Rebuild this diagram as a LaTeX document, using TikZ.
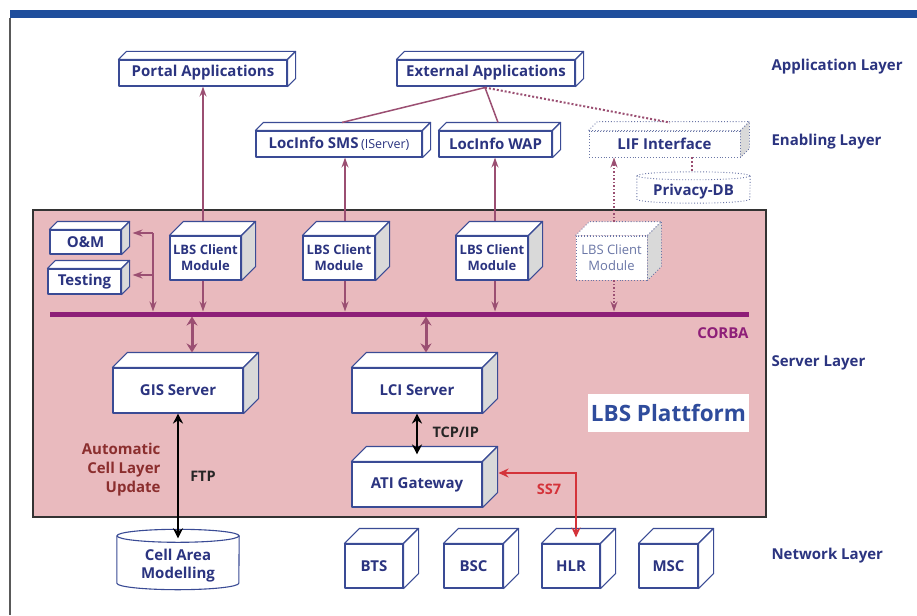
\documentclass[tikz,border=0pt]{standalone}
\usepackage{fontspec}
\setmainfont{Open Sans}
\usetikzlibrary{arrows.meta,calc}
\definecolor{navy}{HTML}{2B3480}
\definecolor{boxblue}{HTML}{3A4B95}
\definecolor{mauve}{HTML}{9B4F72}
\definecolor{busc}{HTML}{8E1F78}
\definecolor{pinkbg}{HTML}{E9BABE}
\definecolor{topblue}{HTML}{1F4E9C}
\definecolor{ssred}{HTML}{D4333A}
\definecolor{darkred}{HTML}{8B2E2E}
\definecolor{platblue}{HTML}{2F4C9C}
\definecolor{sidegray}{HTML}{D9D9D9}
\definecolor{dotblue}{HTML}{6A76A6}
\pgfdeclarelayer{bg}
\pgfdeclarelayer{cyl}
\pgfsetlayers{bg,cyl,main}
\newcommand\mkcube[4][boxline]{%
  \draw[#1,fill=white] (#2.north west) -- ++(#3,-#3) -- ($(#2.north east)+(#3,-#3)$) -- (#2.north east) -- cycle;
  \draw[#1,fill=#4] (#2.north east) -- ++(#3,-#3) -- ($(#2.south east)+(#3,-#3)$) -- (#2.south east) -- cycle;
}
\newcommand\mkcyl[4][boxline]{% style, node, xradius, yradius (numbers)
  \begin{pgfonlayer}{cyl}
  \draw[#1,fill=white] ($(#2.north west)+(0,-#4)$) -- ($(#2.south west)+(0,-#4)$) arc[start angle=180,end angle=360,x radius=#3pt,y radius=#4pt] -- ($(#2.north east)+(0,-#4)$) -- cycle;
  \draw[#1,fill=white] ($(#2.north)+(0,-#4)$) ellipse[x radius=#3pt,y radius=#4pt];
  \end{pgfonlayer}
}
\tikzset{
  boxline/.style={draw=boxblue,line width=1.1pt,line join=round},
  dotline/.style={draw=dotblue,line width=0.9pt,dotted,line join=round},
  fbox/.style={boxline,fill=white,inner sep=0pt,align=center,text=navy,font=\bfseries\fontsize{15}{17}\selectfont},
  cbox/.style={fbox,font=\bfseries\fontsize{13}{16}\selectfont},
  cylbody/.style={inner sep=0pt,align=center,text=navy,font=\bfseries\fontsize{15}{18}\selectfont},
  layerlbl/.style={anchor=west,text=navy,font=\bfseries\fontsize{15}{17}\selectfont},
  marr/.style={draw=mauve,line width=1.5pt,-{Stealth[length=10pt,width=7pt]}},
  mline/.style={draw=mauve,line width=1.5pt},
  mdot/.style={draw=mauve,line width=2pt,dotted},
  dbl/.style={draw=mauve,line width=3pt,{Stealth[length=9pt,width=11pt]}-{Stealth[length=9pt,width=11pt]}},
  blk/.style={draw=black,line width=2.5pt,{Stealth[length=10pt,width=10pt]}-{Stealth[length=10pt,width=10pt]}},
  redarr/.style={draw=ssred,line width=2pt,{Stealth[length=10pt,width=9pt]}-{Stealth[length=10pt,width=9pt]}},
}
\begin{document}
\begin{tikzpicture}[x=1pt,y=-1pt]
\begin{pgfonlayer}{bg}
\fill[white] (0,0) rectangle (917,615);
\end{pgfonlayer}
\useasboundingbox (0,0) rectangle (917,615);
\fill[topblue] (10,10) rectangle (917,18);
\draw[gray!70!black,line width=1.5pt] (10,18) -- (10,615);
% platform
\node[draw=black!80,line width=2pt,fill=pinkbg,minimum width=733pt,minimum height=307pt,inner sep=0pt] (plat) at (399.5,363.5) {};
\coordinate (busL) at (50,314);
\coordinate (busR) at (749,314);
\draw[busc,line width=5pt] (busL) -- (busR);
\node[anchor=east,text=busc,font=\bfseries\fontsize{15}{17}\selectfont] (corba) at (752,333) {CORBA};
\node[fill=white,minimum width=161pt,minimum height=38pt,inner sep=0pt,text=platblue,font=\bfseries\fontsize{22.5}{26}\selectfont] (lbsp) at (668.5,413) {LBS Plattform};

% application layer
\node[fbox,minimum width=168pt,minimum height=26pt] (portal) at (203,73) {Portal Applications};
\mkcube{portal}{8}{white}
\node[fbox,minimum width=178pt,minimum height=26pt] (ext) at (486,73) {External Applications};
\mkcube{ext}{8}{white}
% enabling layer
\node[fbox,minimum width=166pt,minimum height=26pt] (sms) at (339,144) {LocInfo SMS\,{\mdseries\fontsize{12.5}{14}\selectfont(IServer)}};
\mkcube{sms}{8}{white}
\node[fbox,minimum width=113pt,minimum height=26pt] (wap) at (495.5,144) {LocInfo WAP};
\mkcube{wap}{8}{white}
\node[fbox,dotline,minimum width=151pt,minimum height=26pt] (lif) at (664.5,144) {LIF Interface};
\mkcube[dotline]{lif}{9}{sidegray}
\node[cylbody,minimum width=113pt,minimum height=23pt] (pdb) at (693.5,191.5) {Privacy-DB};
\mkcyl[dotline]{pdb}{56.5}{4}

% client modules
\node[fbox,minimum width=71pt,minimum height=24pt] (om) at (85.5,242) {O\&M};
\mkcube{om}{8}{sidegray}
\node[fbox,minimum width=73pt,minimum height=25pt] (test) at (84.5,281.5) {Testing};
\mkcube{test}{8}{sidegray}
\node[cbox,minimum width=71pt,minimum height=44pt] (lbs1) at (205.5,258) {LBS Client\\Module};
\mkcube{lbs1}{14}{sidegray}
\node[cbox,minimum width=72pt,minimum height=44pt] (lbs2) at (339,258) {LBS Client\\Module};
\mkcube{lbs2}{14}{sidegray}
\node[cbox,minimum width=72pt,minimum height=44pt] (lbs3) at (492,258) {LBS Client\\Module};
\mkcube{lbs3}{14}{sidegray}
\node[cbox,dotline,minimum width=71pt,minimum height=44pt,text=dotblue,font=\fontsize{13}{16}\selectfont] (lbs4) at (611.5,258) {LBS Client\\Module};
\mkcube[dotline]{lbs4}{14}{sidegray}

% servers
\node[fbox,minimum width=130pt,minimum height=45pt] (gis) at (178,390.5) {GIS Server};
\mkcube{gis}{15}{sidegray}
\node[fbox,minimum width=130pt,minimum height=45pt] (lci) at (417,390.5) {LCI Server};
\mkcube{lci}{15}{sidegray}
\node[fbox,minimum width=130pt,minimum height=45pt] (ati) at (417,484.5) {ATI Gateway};
\mkcube{ati}{15}{sidegray}

% network layer
\node[cylbody,minimum width=122pt,minimum height=47pt] (cam) at (178,566) {Cell Area\\Modelling};
\mkcyl{cam}{61}{6.5}
\node[fbox,minimum width=58pt,minimum height=44pt] (bts) at (374,566) {BTS};
\mkcube{bts}{15}{white}
\node[fbox,minimum width=59pt,minimum height=44pt] (bsc) at (473.5,566) {BSC};
\mkcube{bsc}{15}{white}
\node[fbox,minimum width=58pt,minimum height=44pt] (hlr) at (571,566) {HLR};
\mkcube{hlr}{15}{white}
\node[fbox,minimum width=59pt,minimum height=44pt] (msc) at (668.5,566) {MSC};
\mkcube{msc}{15}{white}

% layer labels
\node[layerlbl] (lapp) at (768,67) {Application Layer};
\node[layerlbl] (lena) at (768,142) {Enabling Layer};
\node[layerlbl] (lsrv) at (768,363) {Server Layer};
\node[layerlbl] (lnet) at (768,556) {Network Layer};

% connectors top
\draw[mline] ($(ext.south)+(-1,1)$) -- ($(sms.north)+(3,-8)$);
\draw[mline] ($(ext.south)+(-1,1)$) -- ($(wap.north)+(2.5,-8)$);
\draw[mdot] ($(ext.south)+(-1,1)$) -- ($(lif.north)+(5.5,-8)$);
\draw[mdot] ($(lif.south)+(27,0)$) -- ($(pdb.north)+(-2,-8)$);

\draw[marr] ($(lbs1.north)+(-2.5,-14)$) -- (portal.south);
\draw[marr] ($(lbs2.north)+(6,-14)$) -- ($(sms.south)+(6,0)$);
\draw[marr] ($(lbs3.north)+(3,-14)$) -- ($(wap.south)+(-0.5,0)$);
\draw[marr,dotted] ($(lbs4.north)+(2.5,-14)$) -- ($(lif.south)+(-50.5,0)$);

\draw[marr] ($(lbs1.south)+(-2.5,0)$) -- ($(lbs1.south |- busL)+(-2.5,-2.5)$);
\draw[marr] ($(lbs2.south)+(6,0)$) -- ($(lbs2.south |- busL)+(6,-2.5)$);
\draw[marr] ($(lbs3.south)+(3,0)$) -- ($(lbs3.south |- busL)+(3,-2.5)$);
\draw[marr,dotted] ($(lbs4.south)+(2.5,0)$) -- ($(lbs4.south |- busL)+(2.5,-2.5)$);

\coordinate (omj) at (153,233);
\coordinate (tj) at (153,275);
\draw[marr] (omj) -- ($(omj |- busL)+(0,-2.5)$);
\draw[marr] (omj) -- ($(om.east)+(11,-9)$);
\draw[marr] (tj) -- ($(test.east)+(11,-6.5)$);

\draw[dbl] ($(gis.north |- busL)+(14,2.5)$) -- ($(gis.north)+(14,-15)$);
\draw[dbl] ($(lci.north |- busL)+(9,2.5)$) -- ($(lci.north)+(9,-15)$);

\draw[blk] (gis.south) -- ($(cam.north)+(0,-4)$);
\draw[blk] (lci.south) -- ($(ati.north)+(0,-7)$);
\draw[redarr] ($(ati.east)+(16,-11.5)$) -| ($(hlr.north)+(5,-6)$);

% labels
\node[anchor=east,align=right,text=darkred,font=\bfseries\fontsize{15}{19}\selectfont] (acl) at (164,470) {Automatic\\Cell Layer\\Update};
\node[text=black!85,font=\bfseries\fontsize{14.5}{16}\selectfont] (ftp) at (203,476) {FTP};
\node[anchor=west,text=black!85,font=\bfseries\fontsize{14.5}{16}\selectfont] (tcp) at (429,432) {TCP/IP};
\node[text=ssred,font=\bfseries\fontsize{14.5}{16}\selectfont] (ss7) at (549,489) {SS7};
\end{tikzpicture}
\end{document}
